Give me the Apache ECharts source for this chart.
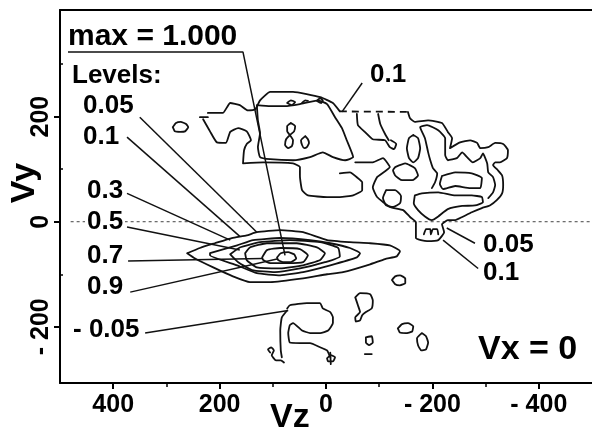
<!DOCTYPE html>
<html>
<head>
<meta charset="utf-8">
<script src="https://cdn.jsdelivr.net/npm/echarts@6/dist/echarts.min.js"></script>
<style>html,body{margin:0;padding:0;background:#fff}#c{width:592px;height:427px}</style>
</head>
<body>
<div id="c"></div>
<script>
// ---------- axis ticks ----------
const xTickValues = [400, 200, 0, -200, -400];
const xMinorValues = [300, 100, -100, -300];
const yTickValues = [200, 0, -200];
const yMinorValues = [300, 100, -100];

// ---------- contour lines, points are [Vz, Vy] ----------
const core09 = [[92,-68],[85,-60],[71,-58],[60,-62],[56,-70],[66,-77],[81,-77],[90,-73],[92,-68]];
const core07 = [[120,-68],[111,-54],[86,-50],[49,-52],[34,-64],[43,-77],[73,-79],[105,-79],[118,-73],[120,-68]];
const core05 = [[152,-60],[143,-49],[111,-41],[55,-41],[17,-49],[2,-60],[11,-73],[43,-83],[86,-89],[130,-87],[149,-73],[152,-60]];
const core03 = [[180,-62],[162,-49],[124,-39],[68,-35],[11,-39],[-23,-50],[-26,-66],[2,-77],[49,-89],[96,-96],[139,-92],[165,-77],[180,-62]];
const core01 = [[218,-60],[167,-45],[137,-35],[86,-31],[30,-35],[-8,-41],[-45,-50],[-64,-60],[-58,-68],[-8,-83],[43,-96],[86,-102],[130,-98],[167,-83],[218,-64],[218,-60]];
const core005 = [[261,-60],[237,-50],[209,-41],[177,-31],[149,-26],[130,-20],[86,-16],[43,-20],[-2,-35],[-45,-39],[-83,-41],[-120,-45],[-139,-56],[-133,-66],[-111,-71],[-83,-81],[-32,-96],[-2,-100],[43,-108],[105,-115],[143,-115],[175,-104],[212,-87],[246,-70],[261,-60]];

const cloudTop = [[222,207],[194,207],[180,226],[162,222],[147,212],[133,214],[124,231],[105,247],[62,247],[11,237],[-13,226],[-26,210]];
const cloudTopBroken = [[-26,210],[-154,209]];
const cloudHook = [[237,199],[222,199]];
const cloudLower = [[231,195],[218,172],[205,151],[188,150],[180,171],[165,178],[149,172],[141,155],[149,148],[154,136],[156,111],[118,113],[62,111],[49,104],[49,87],[45,60],[34,50],[-2,47],[-26,47],[-51,50],[-68,60],[-68,75],[-60,83],[-45,94],[-26,92]];
const cloudInner = [[130,222],[105,220],[77,220],[49,224],[15,231],[-2,224],[-17,199],[-30,178],[-39,155],[-51,123],[-36,117],[-13,123],[6,132],[30,123],[62,117],[105,119],[124,123],[128,142],[124,169],[128,193],[130,222]];
const cloudEight = [[66,188],[58,182],[60,172],[68,165],[75,157],[77,146],[71,140],[64,144],[62,155],[68,165],[73,172],[73,182],[66,188]];
const cloudZero = [[39,163],[34,157],[32,150],[36,142],[41,140],[45,146],[47,155],[39,163]];
const cloudBead1 = [[73,226],[66,231],[58,228],[64,222],[73,226]];
const cloudBead2 = [[17,230],[11,235],[6,231],[9,226],[17,230]];
const cloudWave = [[45,226],[39,231],[34,230]];
const islandLeft = [[288,180],[282,188],[273,190],[263,186],[259,180],[265,172],[274,171],[284,172],[288,180]];
const hangA = [[-58,205],[-60,184],[-73,171],[-88,157],[-111,155],[-120,142],[-128,138],[-132,148],[-122,155]];
const hangB = [[-98,205],[-102,186],[-111,167],[-118,155]];

const rightOuter = [[-154,209],[-158,197],[-167,190],[-192,193],[-218,188],[-229,171],[-237,159],[-233,140],[-252,151],[-271,155],[-284,150],[-290,140],[-305,142],[-318,150],[-333,148],[-342,136],[-340,121],[-327,113],[-318,113],[-314,108],[-323,98],[-331,88],[-333,70],[-331,54],[-321,41],[-308,31],[-293,26],[-274,18],[-256,9],[-243,3],[-229,3],[-218,-5],[-222,-20],[-211,-35],[-190,-37],[-169,-31],[-169,-1],[-158,9],[-145,22],[-120,28],[-96,47],[-88,65],[-96,85],[-120,104],[-107,121],[-88,113],[-55,113]];
const rightNotch = [[-184,-24],[-188,-14],[-196,-14],[-197,-24],[-201,-14],[-209,-14],[-211,-24]];
const rightOval = [[-164,165],[-173,159],[-177,140],[-173,121],[-164,113],[-156,121],[-152,140],[-156,159],[-164,165]];
const rightBlobA = [[-130,104],[-149,111],[-167,102],[-173,88],[-162,79],[-143,79],[-130,88],[-126,98],[-130,104]];
const rightBlobB = [[-113,60],[-130,60],[-141,49],[-139,35],[-126,28],[-113,31],[-107,45],[-113,60]];
const rightWinding = [[-199,64],[-205,75],[-209,92],[-201,102],[-196,117],[-192,132],[-186,159],[-177,180],[-190,184],[-211,174],[-224,159],[-224,127],[-229,117],[-246,121],[-256,132],[-265,123],[-276,113],[-290,121],[-295,130],[-303,111],[-305,94],[-314,85],[-318,70],[-314,56],[-305,45]];
const rightBand = [[-218,87],[-243,94],[-274,92],[-293,83],[-290,64],[-271,64],[-243,68],[-220,62],[-214,72],[-218,87]];
const rightLower = [[-167,50],[-180,54],[-211,56],[-243,50],[-274,50],[-293,47],[-295,37],[-280,31],[-256,30],[-229,24],[-211,10],[-199,3],[-186,10],[-173,22],[-165,35],[-167,50]];

const negMain = [[73,-165],[68,-159],[36,-155],[11,-155],[6,-165],[-8,-172],[-13,-182],[-13,-193],[-4,-207],[11,-212],[30,-212],[45,-207],[62,-193],[68,-197],[71,-212],[68,-230],[49,-231],[30,-231],[11,-239],[-2,-245],[-8,-258]];
const negStem = [[73,-169],[83,-182],[86,-207],[85,-245],[83,-258]];
const negCurlA = [[105,-249],[109,-243],[103,-239],[98,-245],[102,-254],[94,-264],[85,-264],[79,-268]];
const negCurlB = [[-2,-260],[-9,-254],[-17,-258],[-13,-266],[-4,-266],[-2,-260]];
const negCurlBStem = [[-8,-249],[-9,-271]];
const islandOval1 = [[-124,-111],[-130,-104],[-139,-102],[-149,-108],[-149,-117],[-139,-121],[-130,-119],[-124,-111]];
const islandHook = [[-55,-144],[-64,-136],[-83,-138],[-88,-150],[-86,-165],[-75,-172],[-68,-178],[-64,-188],[-56,-190],[-55,-182],[-64,-172],[-60,-159],[-55,-144]];
const islandSquare = [[-75,-220],[-86,-218],[-88,-230],[-81,-235],[-75,-230],[-75,-220]];
const islandDash = [[-73,-252],[-86,-252]];
const islandOval2 = [[-135,-203],[-143,-195],[-154,-193],[-164,-199],[-162,-209],[-150,-212],[-139,-211],[-135,-203]];
const islandOval3 = [[-180,-212],[-188,-218],[-192,-230],[-188,-243],[-179,-245],[-173,-235],[-171,-222],[-180,-212]];

const zeroLine = [[480,0],[-500,0]];

// ---------- annotation leader lines ----------
const leaderMax = [[485,323],[156,323],[77,-64]];
const leader005L = [[350,199],[130,-20]];
const leader01L = [[374,161],[162,-28]];
const leader03 = [[374,54],[180,-35]];
const leader05 = [[374,-10],[162,-54]];
const leader07 = [[372,-75],[120,-70]];
const leader09 = [[368,-134],[92,-71]];
const leaderNeg = [[340,-212],[71,-169]];
const leader01Top = [[-68,264],[-30,209]];
const leader005R = [[-280,-41],[-227,-12]];
const leader01R = [[-286,-89],[-220,-35]];

// ---------- texts ----------
const maxText = 'max = 1.000';
const levelsTitle = 'Levels:';
const levelTexts = ['0.05', '0.1', '0.3', '0.5', '0.7', '0.9', '- 0.05', '0.1', '0.05', '0.1'];
const panelText = 'Vx = 0';
const xName = 'Vz';
const yName = 'Vy';

const FONT = '"Liberation Sans", Arial, Helvetica, sans-serif';
const ink = '#111';

function curve(data, extra) {
  const s = {
    type: 'line', data: data, xAxisIndex: 0, yAxisIndex: 0,
    showSymbol: false, symbol: 'none', silent: true, animation: false,
    clip: true, smooth: 0.15, z: 3,
    lineStyle: { color: ink, width: 1.8, join: 'round', cap: 'round' }
  };
  return Object.assign(s, extra || {});
}

const contourSets = [core09, core07, core05, core03, core01, core005,
  cloudTop, cloudHook, cloudLower, cloudInner, cloudEight, cloudZero, cloudBead1, cloudBead2, cloudWave,
  islandLeft, hangA, hangB,
  rightOuter, rightNotch, rightOval, rightBlobA, rightBlobB, rightWinding, rightBand, rightLower,
  negMain, negStem, negCurlA, negCurlB, negCurlBStem,
  islandOval1, islandHook, islandSquare, islandDash, islandOval2, islandOval3];

const leaders = [leaderMax, leader005L, leader01L, leader03, leader05, leader07, leader09, leaderNeg, leader01Top, leader005R, leader01R];

const series = [];
series.push(curve(zeroLine, { smooth: false, z: 2, lineStyle: { color: '#444', width: 1, type: [3, 3] } }));
contourSets.forEach(d => series.push(curve(d)));
series.push(curve(cloudTopBroken, { smooth: false, lineStyle: { color: ink, width: 1.8, type: [7, 5] } }));
leaders.forEach(d => series.push(curve(d, { smooth: false, lineStyle: { color: ink, width: 1.5 } })));

const fmt = v => (v < 0 ? '- ' + Math.abs(v) : String(v));

function txt(text, x, y, size, extra) {
  return Object.assign({
    type: 'text', x: x, y: y, z: 100, silent: true,
    style: { text: text, font: 'bold ' + size + 'px ' + FONT, fill: '#000', textAlign: 'left', textVerticalAlign: 'middle' }
  }, extra || {});
}

const graphics = [
  { type: 'rect', z: 99, silent: true, shape: { x: 85, y: 212, width: 40, height: 20 }, style: { fill: '#fff' } },
  txt(maxText, 68, 37, 30),
  txt(levelsTitle, 72, 76, 26),
  txt(levelTexts[0], 83, 106, 26),
  txt(levelTexts[1], 83, 137, 26),
  txt(levelTexts[2], 87, 191, 26),
  txt(levelTexts[3], 87, 222, 26),
  txt(levelTexts[4], 87, 256, 26),
  txt(levelTexts[5], 87, 287, 26),
  txt(levelTexts[6], 73, 330, 26),
  txt(levelTexts[7], 370, 75, 26),
  txt(levelTexts[8], 483, 245, 26),
  txt(levelTexts[9], 483, 273, 26),
  txt(panelText, 478, 350, 34),
  txt(xName, 270, 418, 34),
  { type: 'text', x: 25, y: 183, rotation: Math.PI / 2, z: 100, silent: true,
    style: { text: yName, font: 'bold 34px ' + FONT, fill: '#000', textAlign: 'center', textVerticalAlign: 'middle' } }
];

const chart = echarts.init(document.getElementById('c'), null, { renderer: 'canvas' });
chart.setOption({
  animation: false,
  backgroundColor: '#fff',
  grid: { left: 60, right: -1, top: 10, bottom: 44, show: false },
  xAxis: [
    { type: 'value', min: -500, max: 500, inverse: true, position: 'bottom', splitLine: { show: false },
      axisLine: { show: true, onZero: false, lineStyle: { color: '#000', width: 2 } },
      axisTick: { show: true, customValues: xTickValues, length: 6, lineStyle: { color: '#000', width: 2 } },
      axisLabel: { show: true, customValues: xTickValues, formatter: fmt, margin: 10, color: '#000', fontSize: 25, fontWeight: 'bold', fontFamily: FONT } },
    { type: 'value', min: -500, max: 500, inverse: true, position: 'bottom', splitLine: { show: false },
      axisLine: { show: false, onZero: false },
      axisTick: { show: true, customValues: xMinorValues, length: 4, lineStyle: { color: '#000', width: 1.5 } },
      axisLabel: { show: false } },
    { type: 'value', min: -500, max: 500, inverse: true, position: 'top', splitLine: { show: false },
      axisLine: { show: true, onZero: false, lineStyle: { color: '#000', width: 2 } },
      axisTick: { show: false }, axisLabel: { show: false } }
  ],
  yAxis: [
    { type: 'value', min: -307, max: 403, position: 'left', splitLine: { show: false },
      axisLine: { show: true, onZero: false, lineStyle: { color: '#000', width: 2 } },
      axisTick: { show: true, customValues: yTickValues, length: 6, lineStyle: { color: '#000', width: 2 } },
      axisLabel: { show: true, customValues: yTickValues, rotate: 90, formatter: fmt, margin: 6, color: '#000', fontSize: 25, fontWeight: 'bold', fontFamily: FONT } },
    { type: 'value', min: -307, max: 403, position: 'left', splitLine: { show: false },
      axisLine: { show: false, onZero: false },
      axisTick: { show: true, inside: true, customValues: yMinorValues, length: 3, lineStyle: { color: '#000', width: 1.5 } },
      axisLabel: { show: false } }
  ],
  series: series,
  graphic: { elements: graphics }
});
</script>
</body>
</html>
